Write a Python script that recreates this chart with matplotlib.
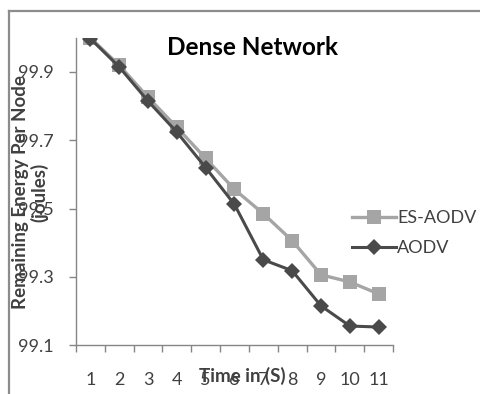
import matplotlib

matplotlib.use("Agg")

import matplotlib.pyplot as plt
from matplotlib.lines import Line2D

plt.rcParams["font.family"] = ["Lato", "DejaVu Sans"]

time_labels = ["1", "2", "3", "4", "5", "6", "7", "8", "9", "10", "11"]
es_aodv = [100.0, 99.92, 99.826, 99.738, 99.647, 99.556, 99.485, 99.406, 99.306, 99.285, 99.25]
aodv = [99.998, 99.915, 99.815, 99.724, 99.62, 99.512, 99.35, 99.318, 99.215, 99.156, 99.153]
y_ticks = [99.1, 99.3, 99.5, 99.7, 99.9]

ES_COLOUR = "#a5a5a5"
AODV_COLOUR = "#4a4a4a"
AXIS_COLOUR = "#868686"
TEXT_COLOUR = "#404040"

fig = plt.figure(figsize=(4.8, 3.94), dpi=100)
ax = fig.add_axes([0.158, 0.124, 0.661, 0.78])

positions = list(range(1, len(time_labels) + 1))
ax.plot(positions, es_aodv, color=ES_COLOUR, linewidth=2.4, marker="s", markersize=10,
        markeredgewidth=0, label="ES-AODV", zorder=2)
ax.plot(positions, aodv, color=AODV_COLOUR, linewidth=2.2, marker="D", markersize=8,
        markeredgewidth=0, label="AODV", zorder=3)

ax.set_xlim(0.5, len(time_labels) + 0.5)
ax.set_ylim(99.1, 100.0)
ax.set_yticks(y_ticks)
ax.set_yticklabels([f"{v:.1f}" for v in y_ticks])
ax.set_xticks(positions)
ax.set_xticklabels(time_labels)
ax.set_xticks([p + 0.5 for p in range(len(time_labels) + 1)], minor=True)
ax.tick_params(axis="x", which="major", length=0, pad=19, labelsize=13, labelcolor=TEXT_COLOUR)
ax.tick_params(axis="x", which="minor", length=5, width=1, color=AXIS_COLOUR, direction="out")
ax.tick_params(axis="y", length=5, width=1, color=AXIS_COLOUR, pad=11, labelsize=13,
               labelcolor=TEXT_COLOUR)

for side in ("top", "right"):
    ax.spines[side].set_visible(False)
for side in ("left", "bottom"):
    ax.spines[side].set_color(AXIS_COLOUR)
    ax.spines[side].set_linewidth(1)

fig.text(0.527, 0.88, "Dense Network", ha="center", va="center", fontsize=17.5,
         fontweight="bold", color="black")
fig.text(0.063, 0.513, "Remaining Energy Per Node\n(joules)", ha="center", va="center",
         rotation=90, fontsize=13.5, fontweight="bold", color=TEXT_COLOUR, linespacing=1.05)
fig.text(0.505, 0.047, "Time in (S)", ha="center", va="center", fontsize=13.5,
         fontweight="bold", color=TEXT_COLOUR)

fig.legend(loc="center left", bbox_to_anchor=(0.70, 0.408), frameon=False, fontsize=13,
           handlelength=2.4, handletextpad=0.1, labelspacing=0.75, labelcolor=TEXT_COLOUR)

# outer chart frame (only top and left edges show)
fig.add_artist(Line2D([0.019, 1.0], [0.972, 0.972], transform=fig.transFigure,
                      color="#8c8c8c", linewidth=1.6))
fig.add_artist(Line2D([0.019, 0.019], [0.0, 0.972], transform=fig.transFigure,
                      color="#8c8c8c", linewidth=1.6))

fig.savefig("out.png", dpi=100)
